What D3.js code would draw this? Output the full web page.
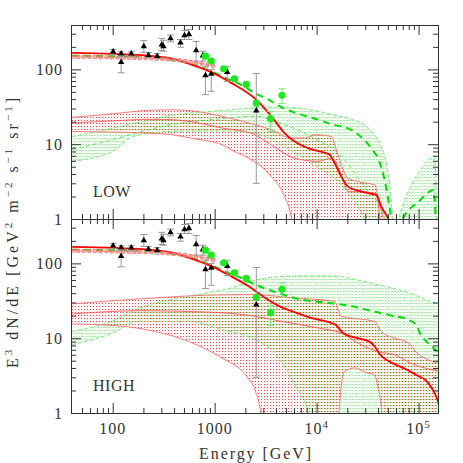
<!DOCTYPE html>
<html>
<head>
<meta charset="utf-8">
<title>electron spectrum LOW / HIGH</title>
<style>
  body { margin: 0; background: #fff; }
</style>
</head>
<body>
<svg width="463" height="463" class="chart"></svg>
<script src="https://d3js.org/d3.v7.min.js"></script>
<script>
// ---- data: [energy GeV, E^3 dN/dE] ----
// measurements (same in both panels)
var triE  = [101, 121, 121, 152, 202, 224, 273, 303, 315, 369, 462, 506, 559, 659, 767, 813, 925, 1328, 2560];
var triF  = [172, 162, 125, 162, 203, 155, 150, 214, 203, 259, 227, 285, 294, 179, 153, 83, 87, 92, 28];
var triLo = [158, 150, 90, 148, 169, 145, 140, 179, 175, 233, 198, 251, 251, 129, 129, 46, 51, 69, 3];
var triHi = [185, 172, 150, 172, 243, 168, 163, 260, 245, 288, 251, 331, 340, 236, 175, 110, 100, 110, 88];

var dotE  = [813, 925, 1225, 1566, 2043, 2560, 3533, 4575];
var dotF  = [150, 129, 102, 75, 63, 35.2, 21.9, 45];
var dotLo = [142, 121, 96, 71, 59, 33, 14.8, 35];
var dotHi = [158, 137, 108, 79, 67, 38, 27.4, 55];

var sqE   = [41, 46, 52, 59, 67, 76, 87, 98, 112, 127, 144, 163, 185, 210, 239, 271, 308, 349, 396, 450, 511, 580, 658, 747, 848, 962];
var sqF   = [148, 147, 147, 146, 146, 145, 145, 144, 144, 143, 143, 142, 142, 141, 140, 139, 138, 136, 134, 132, 129, 126, 123, 120, 116, 112];
var sqErr = [5, 5, 5, 5, 5, 5, 5, 5, 5, 5, 5, 5, 5, 5, 5, 6, 6, 6, 7, 7, 8, 9, 10, 11, 13, 15];

// LOW panel curves
var lowTotal = [[40,166],[101,161],[238,151],[375,140],[589,116],[925,92],[1453,66],[2557,39.4],[3592,23.6],[4845,14.1],[6310,10.5],[8222,8.87],[10690,8.0],[13400,7.2],[15000,5.6],[17460,3.69],[20300,2.71],[25470,2.40],[31900,2.21],[38500,2.10],[43100,1.46],[50100,1.02],[60000,0.5]];
var lowDashed = [[40,152],[100,150],[240,145],[590,118],[925,94],[1453,71],[1820,62],[2500,48],[3300,40],[4800,30],[7000,25],[10300,21.3],[15000,18],[20000,16.4],[25500,13.5],[30000,11],[35000,8.5],[41000,6.0],[46000,3.5],[50500,1.8],[54000,1.0],[57000,0.5]];
var lowDashed2 = [[60000,0.5],[70000,1.0],[100000,1.7],[140000,2.45],[146000,1.2],[150000,0.4]];
var lowRedUp = [[40,22.8],[100,25.5],[240,28.5],[380,28.8],[590,28],[1190,23.5],[2300,18.8],[3590,15.6],[5640,12.1],[7620,12.1],[9550,13.4],[13900,12.7],[16200,7.2],[20300,3.5],[27400,3.1],[37100,2.86],[41500,1.54],[44800,1.0],[47000,0.5]];
var lowRedMid = [[40,19.2],[100,20.5],[240,21.5],[380,21.3],[590,20],[1190,16.4],[2300,14],[3590,9.8],[6080,6.5],[10300,5.9],[13900,6.5],[17460,3.9],[20300,2.32],[29500,2.32],[38500,2.05],[41500,1.13],[44000,0.5]];
var lowRedLo = [[40,14.8],[100,14.5],[240,14],[380,13.4],[590,12],[1190,9.8],[1450,8.4],[2285,6.2],[3590,3.69],[4845,1.99],[5640,1.03],[6000,0.5]];
var lowGreenUp = [[40,12.6],[100,16.4],[200,20.2],[380,24.3],[1200,28.2],[2300,30.5],[4000,31.5],[8000,29.5],[14000,25],[22000,21.5],[30000,18],[35000,14.5],[42000,10],[47000,6.5],[52000,3],[55000,1.2],[57000,0.5]];
var lowGreenMid = [[40,8.5],[100,11.5],[200,15],[400,18.5],[1000,21.5],[2500,23.5],[5000,18],[10000,11.5],[16200,7.6],[29500,2.7],[46400,1.07],[50000,0.5]];
var lowGreenLo = [[40,5.9],[100,8.0],[160,12.7],[380,14.8],[1200,15.1],[2500,14],[5000,9],[10000,5],[16200,3.2],[25000,1.5],[32000,0.8],[36000,0.5]];
var lowGreen2Up = [[58000,0.5],[64000,1.0],[80000,2.4],[100000,4.2],[125000,6.2],[143000,6.8],[148000,3],[151000,0.5]];
var lowGreen2Lo = [[58000,0.5],[155000,0.5]];

// HIGH panel curves
var highTotal = [[40,166],[101,161],[238,151],[375,140],[589,116],[925,92],[1453,67],[2285,47],[3085,35],[4500,26],[6560,21.5],[9000,18.5],[12900,16.5],[15500,15],[18000,11.8],[25000,10],[33000,9],[37000,7.8],[42000,6],[50100,5],[73600,3.9],[100000,3.1],[115000,2.8],[135000,2.14],[155000,1.42],[160000,1.2]];
var highDashed = [[40,152],[100,150],[240,145],[590,118],[925,94],[1453,72],[1820,64],[2500,52],[4000,41],[7000,33],[12000,30],[20000,27.5],[35000,23],[55000,20],[80000,17.5],[95000,15],[105000,11],[120000,9],[140000,7.4],[160000,6]];
var highRedUp = [[40,28.8],[181,33.5],[813,37.5],[2285,38.3],[6070,34.5],[15000,31],[17460,19.6],[37100,16.8],[43100,12.3],[58200,10],[78700,8.8],[98000,6.2],[115000,5.4],[160000,4.6]];
var highRedMid = [[40,21.1],[181,23.3],[813,22.4],[2285,20],[4500,16.8],[10300,13.7],[17460,11.7],[27400,8.15],[40000,6.6],[58200,6.0],[84900,4.6],[160000,3.6]];
var highRedLo = [[40,15.5],[100,14.8],[262,12.3],[559,9.0],[1186,5.4],[2010,3.2],[2520,1.93],[2820,1.04],[3100,0.3],[16000,0.3],[16600,1.0],[18800,3.6],[23600,4.0],[30000,3.5],[37100,3.2],[40000,2.14],[43500,1.0],[45000,0.3],[160000,0.3]];
var highGreenUp = [[40,12.3],[100,17],[180,25],[380,33],[810,40],[1450,47],[2300,58],[4000,66],[7000,68],[15000,68],[25000,60],[45000,50],[70000,43],[95000,37],[130000,31],[160000,28]];
var highGreenLo = [[40,8.15],[100,11.7],[181,16.8],[560,16.8],[1186,13],[2285,10],[4000,6],[6000,2.5],[8200,1.0],[9000,0.3],[160000,0.3]];

var xMajor = [100, 1000, 1e4, 1e5];
var xMinor = [50,60,70,80,90,200,300,400,500,600,700,800,900,2000,3000,4000,5000,6000,7000,8000,9000,20000,30000,40000,50000,60000,70000,80000,90000];
var yMajor = [1, 10, 100];
var yMinor = [2,3,4,5,6,7,8,9,20,30,40,50,60,70,80,90,200,300];

var FONT = "'Liberation Serif', 'DejaVu Serif', serif";
var INK = "#333";

var panels = [
  {name: "LOW", top: 25, bottom: 219, total: lowTotal, dashed: [lowDashed, lowDashed2],
   greenBands: [[lowGreenUp, lowGreenLo], [lowGreen2Up, lowGreen2Lo]], greenMid: [lowGreenMid],
   redBands: [[lowRedUp, lowRedLo]], redMid: [lowRedMid]},
  {name: "HIGH", top: 219, bottom: 413, total: highTotal, dashed: [highDashed],
   greenBands: [[highGreenUp, highGreenLo]], greenMid: [],
   redBands: [[highRedUp, highRedLo]], redMid: [highRedMid]}
];

var svg = d3.select(".chart");
var left = 71, right = 438;
var xs = d3.scaleLog().domain([39, 155000]).range([left, right]);

var defs = svg.append("defs");
var pr = defs.append("pattern").attr("id", "dotRed").attr("patternUnits", "userSpaceOnUse")
  .attr("width", 3).attr("height", 3);
pr.append("rect").attr("x", 0).attr("y", 0).attr("width", 1).attr("height", 1).attr("fill", "#ff3a3a");
pr.append("rect").attr("x", 1.5).attr("y", 1.5).attr("width", 0.8).attr("height", 0.8).attr("fill", "#ffb0b0");
var pg = defs.append("pattern").attr("id", "dotGreen").attr("patternUnits", "userSpaceOnUse")
  .attr("width", 3).attr("height", 3);
pg.append("rect").attr("x", 1.5).attr("y", 0).attr("width", 1).attr("height", 1).attr("fill", "#4be04b");
pg.append("rect").attr("x", 0).attr("y", 1.5).attr("width", 0.8).attr("height", 0.8).attr("fill", "#aaf2aa");

panels.forEach(function(p, i) {
  var ys = d3.scaleLog().domain([1, 392]).range([p.bottom, p.top]);
  var line = d3.line().x(function(d) { return xs(d[0]); }).y(function(d) { return ys(d[1]); })
    .curve(d3.curveMonotoneX);
  function band(up, lo) {
    var a = line(up), b = line(lo.slice().reverse());
    return a + "L" + b.slice(1) + "Z";
  }

  defs.append("clipPath").attr("id", "clip" + i).append("rect")
    .attr("x", left).attr("y", p.top).attr("width", right - left).attr("height", p.bottom - p.top);
  var g = svg.append("g").attr("clip-path", "url(#clip" + i + ")");

  // bands
  p.greenBands.forEach(function(b) {
    g.append("path").attr("d", band(b[0], b[1])).attr("fill", "url(#dotGreen)");
  });
  p.redBands.forEach(function(b) {
    g.append("path").attr("d", band(b[0], b[1])).attr("fill", "url(#dotRed)");
  });
  p.greenBands.forEach(function(b) {
    [b[0], b[1]].forEach(function(c) {
      g.append("path").attr("d", line(c)).attr("fill", "none")
        .attr("stroke", "#6ee86e").attr("stroke-width", 0.9).attr("stroke-dasharray", "4,2");
    });
  });
  p.greenMid.forEach(function(c) {
    g.append("path").attr("d", line(c)).attr("fill", "none")
      .attr("stroke", "#55dd55").attr("stroke-width", 0.9).attr("stroke-dasharray", "4,3");
  });
  p.redBands.forEach(function(b) {
    [b[0], b[1]].forEach(function(c) {
      g.append("path").attr("d", line(c)).attr("fill", "none")
        .attr("stroke", "#ff6b6b").attr("stroke-width", 0.9);
    });
  });
  p.redMid.forEach(function(c) {
    g.append("path").attr("d", line(c)).attr("fill", "none")
      .attr("stroke", "#ff5555").attr("stroke-width", 0.9);
  });

  // main curves
  p.dashed.forEach(function(c) {
    g.append("path").attr("d", line(c)).attr("fill", "none")
      .attr("stroke", "#00dd00").attr("stroke-width", 2).attr("stroke-dasharray", "7,5");
  });
  g.append("path").attr("d", line(p.total)).attr("fill", "none")
    .attr("stroke", "#ff0000").attr("stroke-width", 1.8);

  // red squares with error boxes
  var sq = g.append("g");
  sqE.forEach(function(e, k) {
    var xl = k > 0 ? Math.sqrt(e * sqE[k - 1]) : e * 0.94;
    var xr = k < sqE.length - 1 ? Math.sqrt(e * sqE[k + 1]) : e * 1.06;
    var cx = xs(e), cy = ys(sqF[k]);
    sq.append("line").attr("x1", xs(xl)).attr("x2", xs(xr)).attr("y1", cy).attr("y2", cy)
      .attr("stroke", "#ff8080").attr("stroke-width", 0.8);
    sq.append("line").attr("x1", cx).attr("x2", cx)
      .attr("y1", ys(sqF[k] - sqErr[k])).attr("y2", ys(sqF[k] + sqErr[k]))
      .attr("stroke", "#ff8080").attr("stroke-width", 0.8);
    sq.append("rect").attr("x", cx - 1.5).attr("y", cy - 1.5).attr("width", 3).attr("height", 3)
      .attr("fill", "none").attr("stroke", "#ff7070").attr("stroke-width", 0.8);
  });

  // triangles
  var tg = g.append("g");
  triE.forEach(function(e, k) {
    var cx = xs(e);
    tg.append("line").attr("x1", cx).attr("x2", cx).attr("y1", ys(triLo[k])).attr("y2", ys(triHi[k]))
      .attr("stroke", "#999").attr("stroke-width", 1);
    [triLo[k], triHi[k]].forEach(function(v) {
      tg.append("line").attr("x1", cx - 3.5).attr("x2", cx + 3.5).attr("y1", ys(v)).attr("y2", ys(v))
        .attr("stroke", "#999").attr("stroke-width", 1);
    });
    tg.append("path").attr("d", d3.symbol(d3.symbolTriangle, 18)())
      .attr("transform", "translate(" + cx + "," + ys(triF[k]) + ")").attr("fill", "#000");
  });

  // green dots
  var dg = g.append("g");
  dotE.forEach(function(e, k) {
    var cx = xs(e);
    dg.append("line").attr("x1", cx).attr("x2", cx).attr("y1", ys(dotLo[k])).attr("y2", ys(dotHi[k]))
      .attr("stroke", "#7ee87e").attr("stroke-width", 1);
    [dotLo[k], dotHi[k]].forEach(function(v) {
      dg.append("line").attr("x1", cx - 3.5).attr("x2", cx + 3.5).attr("y1", ys(v)).attr("y2", ys(v))
        .attr("stroke", "#7ee87e").attr("stroke-width", 1);
    });
    dg.append("circle").attr("cx", cx).attr("cy", ys(dotF[k])).attr("r", 3.6).attr("fill", "#1fe81f");
  });

  // axes: ticks on all four sides pointing in
  var ax = svg.append("g");
  function addAxis(gen, tx, ty) {
    var a = ax.append("g").attr("transform", "translate(" + tx + "," + ty + ")").call(gen);
    a.selectAll("line,path").attr("stroke", "#333");
    a.selectAll("text").remove();
  }
  addAxis(d3.axisBottom(xs).tickValues(xMajor).tickSize(-10).tickSizeOuter(0), 0, p.bottom);
  addAxis(d3.axisBottom(xs).tickValues(xMinor).tickSize(-5).tickSizeOuter(0), 0, p.bottom);
  addAxis(d3.axisTop(xs).tickValues(xMajor).tickSize(-10).tickSizeOuter(0), 0, p.top);
  addAxis(d3.axisTop(xs).tickValues(xMinor).tickSize(-5).tickSizeOuter(0), 0, p.top);
  addAxis(d3.axisLeft(ys).tickValues(yMajor).tickSize(-10).tickSizeOuter(0), left, 0);
  addAxis(d3.axisLeft(ys).tickValues(yMinor).tickSize(-5).tickSizeOuter(0), left, 0);
  addAxis(d3.axisRight(ys).tickValues(yMajor).tickSize(-10).tickSizeOuter(0), right, 0);
  addAxis(d3.axisRight(ys).tickValues(yMinor).tickSize(-5).tickSizeOuter(0), right, 0);

  // y labels
  yMajor.forEach(function(v) {
    svg.append("text").attr("x", 63).attr("y", ys(v)).attr("dy", "0.36em")
      .attr("font-family", FONT).attr("fill", INK)
      .attr("text-anchor", "end").attr("font-size", 16).attr("letter-spacing", 1).text(v);
  });

  svg.append("text").attr("x", 93).attr("y", p.bottom - 22).attr("font-size", 16)
    .attr("font-family", FONT).attr("fill", INK)
    .attr("letter-spacing", 0.5).text(p.name);
});

// x labels
var xl = svg.append("g");
[["100", ""], ["1000", ""], ["10", "4"], ["10", "5"]].forEach(function(t, k) {
  var tx = xl.append("text").attr("x", xs(xMajor[k])).attr("y", 434)
    .attr("font-family", FONT).attr("fill", INK)
    .attr("text-anchor", "middle").attr("font-size", 16).attr("letter-spacing", 1);
  tx.append("tspan").text(t[0]);
  if (t[1]) tx.append("tspan").attr("dy", -6).attr("font-size", 11).text(t[1]);
});

svg.append("text").attr("x", 255).attr("y", 459).attr("text-anchor", "middle")
  .attr("font-family", FONT).attr("fill", INK)
  .attr("font-size", 16).attr("textLength", 112).attr("lengthAdjust", "spacing").text("Energy [GeV]");

// y title
var yt = svg.append("text").attr("transform", "translate(18,233) rotate(-90)")
  .attr("font-family", FONT).attr("fill", INK)
  .attr("text-anchor", "middle").attr("font-size", 16)
  .attr("textLength", 270).attr("lengthAdjust", "spacing");
[["E", 0], ["3", 1], [" dN/dE [GeV", 0], ["2", 1], [" m", 0], ["\u22122", 1], [" s", 0], ["\u22121", 1], [" sr", 0], ["\u22121", 1], ["]", 0]]
  .forEach(function(s, k, arr) {
    var ts = yt.append("tspan").text(s[0]);
    if (s[1]) ts.attr("font-size", 11).attr("dy", -6);
    else if (k > 0 && arr[k - 1][1]) ts.attr("dy", 6);
  });
</script>
</body>
</html>
